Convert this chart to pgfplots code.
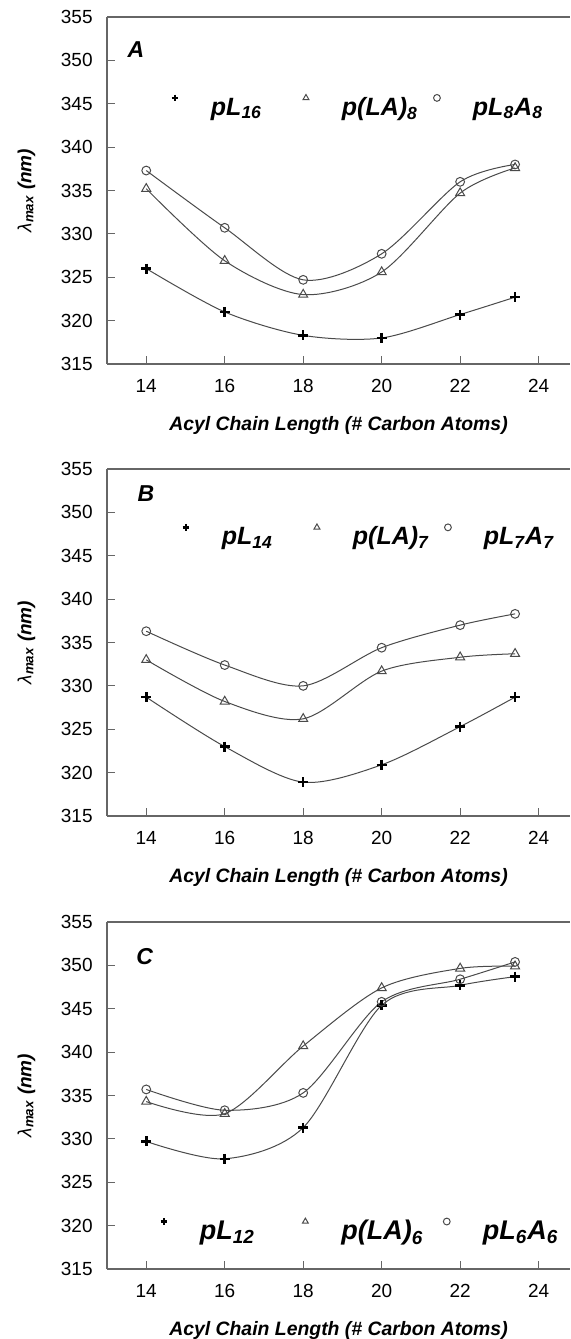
\documentclass[border=0pt]{standalone}
\usepackage{fontspec}
\setmainfont{Liberation Sans}
\usepackage{pgfplots}
\pgfplotsset{compat=1.18}

\definecolor{linegray}{HTML}{4A4A4A}
\definecolor{axgray}{HTML}{666666}

\newcommand{\bi}{\bfseries\itshape}

\pgfplotsset{
  panel/.style={
    scale only axis, width=231.5pt, height=173.5pt,
    xmin=13, xmax=24.8, ymin=315, ymax=355,
    xtick={14,16,18,20,22,24}, ytick={315,320,...,355},
    axis x line*=box, axis y line*=left,
    xtick pos=bottom, ytick pos=left,
    axis line style={axgray, line width=0.6pt},
    tick align=inside, major tick length=4pt,
    tick style={axgray, line width=0.6pt},
    /pgf/number format/assume math mode=true,
    tick label style={font=\fontsize{9.5}{11}\selectfont},
    xticklabel style={inner sep=0pt, yshift=-7.5pt},
    yticklabel style={inner sep=0pt, xshift=-7pt},
    xlabel={Acyl Chain Length (\# Carbon Atoms)},
    xlabel style={at={(axis description cs:0.5,0)}, anchor=north, inner sep=0pt,
      yshift=-26pt, font=\fontsize{9.7}{11}\selectfont\bi},
    ylabel={{\mdseries λ}\textsubscript{max} (nm)},
    ylabel style={at={(axis description cs:-0.174,0.5)}, anchor=center, inner sep=0pt,
      font=\fontsize{9.5}{11}\selectfont\bi},
    legend columns=3, legend cell align=left,
    legend style={draw=none, fill=none, inner sep=0pt, column sep=0pt,
      anchor=west, nodes={inner sep=0pt}},
    legend image code/.code={
      \path[draw=none, fill=none] (-2pt,-6pt) rectangle (18pt,6pt);
      \draw[##1, mark size=1.7pt] plot coordinates {(0pt,5pt)};
    },
  },
  plusline/.style={linegray, line width=0.5pt, smooth, mark=+, mark size=2.5pt,
    mark options={black, line width=1.3pt}},
  triline/.style={linegray, line width=0.5pt, smooth, mark=triangle, mark size=2.6pt,
    mark options={draw=linegray, fill=white, line width=0.5pt}},
  circline/.style={linegray, line width=0.5pt, smooth, mark=o, mark size=2.2pt,
    mark options={draw=linegray, fill=white, line width=0.5pt}},
}

\begin{document}
\begin{tikzpicture}
\useasboundingbox (0,0) rectangle (285pt,669.5pt);

% panel A
\begin{axis}[panel, at={(53.5pt,487.5pt)}, anchor=south west,
  legend style={at={(axis cs:14.62,344.6)},
    font=\fontsize{12.5}{14}\selectfont\bi}]
\addplot[plusline] coordinates {(14,326.0)(16,321.0)(18,318.3)(20,318.0)(22,320.7)(23.4,322.7)};
\addlegendentry{\makebox[45.5pt][l]{pL\textsubscript{16}}}
\addplot[triline] coordinates {(14,335.2)(16,326.9)(18,323.0)(20,325.6)(22,334.7)(23.4,337.6)};
\addlegendentry{\makebox[45.5pt][l]{p(LA)\textsubscript{8}}}
\addplot[circline] coordinates {(14,337.3)(16,330.7)(18,324.7)(20,327.7)(22,336.0)(23.4,338.0)};
\addlegendentry{\makebox[45.5pt][l]{pL\textsubscript{8}A\textsubscript{8}}}
\node[font=\fontsize{11.5}{13}\selectfont\bi] at (axis cs:13.74,351.2) {A};
\end{axis}

% panel B
\begin{axis}[panel, at={(53.5pt,261.5pt)}, anchor=south west,
  legend style={at={(axis cs:14.90,347.2)},
    font=\fontsize{12.5}{14}\selectfont\bi}]
\addplot[plusline] coordinates {(14,328.7)(16,323.0)(18,318.9)(20,320.9)(22,325.3)(23.4,328.7)};
\addlegendentry{\makebox[45.5pt][l]{pL\textsubscript{14}}}
\addplot[triline] coordinates {(14,333.0)(16,328.2)(18,326.2)(20,331.7)(22,333.3)(23.4,333.7)};
\addlegendentry{\makebox[45.5pt][l]{p(LA)\textsubscript{7}}}
\addplot[circline] coordinates {(14,336.3)(16,332.4)(18,330.0)(20,334.4)(22,337.0)(23.4,338.3)};
\addlegendentry{\makebox[45.5pt][l]{pL\textsubscript{7}A\textsubscript{7}}}
\node[font=\fontsize{11.5}{13}\selectfont\bi] at (axis cs:13.99,352.2) {B};
\end{axis}

% panel C
\begin{axis}[panel, at={(53.5pt,35pt)}, anchor=south west,
  legend style={at={(axis cs:14.34,319.4)},
    font=\fontsize{13.5}{15}\selectfont\bi}]
\addplot[plusline] coordinates {(14,329.7)(16,327.7)(18,331.3)(20,345.4)(22,347.7)(23.4,348.7)};
\addlegendentry{\makebox[50.7pt][l]{pL\textsubscript{12}}}
\addplot[triline] coordinates {(14,334.3)(16,332.9)(18,340.7)(20,347.4)(22,349.65)(23.4,349.9)};
\addlegendentry{\makebox[50.7pt][l]{p(LA)\textsubscript{6}}}
\addplot[circline] coordinates {(14,335.7)(16,333.3)(18,335.3)(20,345.8)(22,348.4)(23.4,350.4)};
\addlegendentry{\makebox[50.7pt][l]{pL\textsubscript{6}A\textsubscript{6}}}
\node[font=\fontsize{11.5}{13}\selectfont\bi] at (axis cs:13.96,351.0) {C};
\end{axis}
\end{tikzpicture}
\end{document}
